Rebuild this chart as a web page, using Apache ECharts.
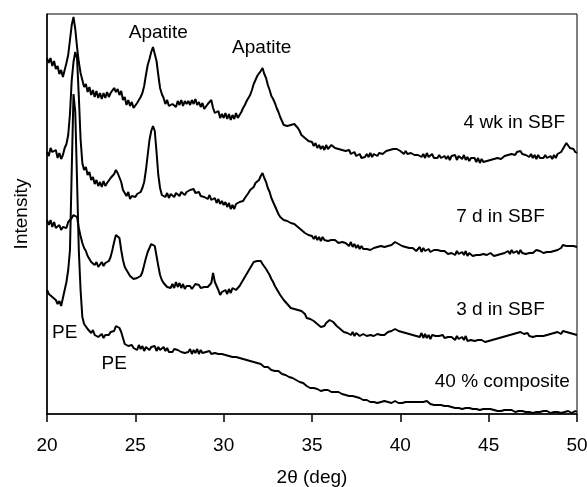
<!DOCTYPE html>
<html>
<head>
<meta charset="utf-8">
<script src="https://cdn.jsdelivr.net/npm/echarts@6/dist/echarts.min.js"></script>
<style>
  html, body { margin: 0; padding: 0; background: #fff; }
  #xrd { width: 587px; height: 487px; }
</style>
</head>
<body>
<div id="xrd"></div>
<script>
// 2θ sampling: 20.0 -> 50.0 deg, 0.1 deg per point
const twoThetaStart = 20
const twoThetaStep = 0.1

// intensities (arbitrary units, traces already offset as in the figure)
const wk4 = [
  356, 351, 356, 348, 353, 345, 348, 340, 344, 337,
  344, 351, 359, 374, 389, 397, 385, 367, 352, 341,
  334, 327, 330, 322, 327, 319, 324, 317, 323, 316,
  321, 315, 321, 316, 322, 317, 321, 322, 326, 322,
  325, 319, 323, 314, 317, 309, 314, 308, 312, 306,
  308, 311, 313, 317, 321, 328, 339, 349, 355, 362,
  367, 365, 353, 339, 326, 320, 316, 310, 314, 308,
  308, 310, 311, 307, 313, 309, 314, 308, 313, 310,
  313, 309, 314, 310, 315, 309, 312, 307, 311, 305,
  307, 310, 311, 314, 306, 301, 299, 303, 296, 300,
  296, 301, 295, 300, 294, 299, 295, 301, 296, 299,
  302, 306, 309, 313, 316, 319, 324, 330, 334, 338,
  340, 343, 346, 340, 336, 329, 324, 318, 315, 311,
  306, 302, 297, 293, 289, 291, 288, 290, 289, 291,
  290, 292, 286, 283, 279, 278, 276, 274, 273, 271,
  272, 268, 271, 266, 269, 265, 268, 264, 269, 265,
  267, 269, 268, 266, 264, 265, 263, 264, 262, 263,
  261, 264, 260, 261, 262, 258, 259, 260, 256, 258,
  257, 260, 257, 261, 257, 260, 261, 258, 261, 262,
  260, 261, 263, 262, 264, 263, 265, 266, 265, 264,
  263, 262, 260, 263, 260, 260, 261, 259, 259, 260,
  259, 261, 257, 260, 256, 261, 257, 256, 260, 256,
  258, 256, 259, 256, 256, 258, 255, 258, 254, 258,
  256, 259, 254, 258, 259, 255, 259, 254, 257, 253,
  256, 254, 256, 252, 256, 251, 255, 252, 251, 253,
  252, 254, 253, 255, 254, 256, 257, 255, 257, 258,
  257, 259, 258, 260, 261, 259, 262, 261, 263, 260,
  261, 259, 261, 257, 260, 256, 259, 255, 259, 256,
  258, 256, 259, 256, 256, 258, 255, 259, 256, 260,
  259, 262, 265, 268, 271, 269, 266, 264, 265, 262,
  261
]
const d7 = [
  262, 258, 266, 262, 261, 264, 256, 261, 255, 259,
  266, 270, 279, 300, 334, 352, 362, 356, 318, 275,
  251, 244, 247, 239, 242, 234, 237, 230, 234, 228,
  232, 227, 233, 228, 231, 233, 236, 234, 240, 244,
  241, 239, 232, 224, 222, 218, 222, 215, 218, 218,
  217, 220, 219, 222, 226, 232, 244, 259, 274, 283,
  288, 283, 262, 239, 226, 219, 221, 217, 221, 216,
  220, 221, 217, 221, 223, 218, 222, 224, 219, 222,
  221, 224, 222, 225, 221, 219, 222, 218, 220, 217,
  219, 215, 219, 214, 215, 216, 211, 215, 210, 213,
  209, 212, 207, 211, 205, 209, 205, 210, 211, 212,
  214, 213, 216, 218, 221, 224, 226, 227, 231, 233,
  234, 238, 241, 236, 232, 226, 222, 216, 212, 208,
  204, 200, 197, 196, 194, 195, 193, 194, 191, 192,
  190, 188, 187, 185, 184, 182, 181, 180, 179, 178,
  178, 175, 178, 174, 177, 173, 177, 174, 174, 173,
  175, 174, 172, 174, 173, 171, 173, 172, 170, 171,
  170, 168, 172, 167, 170, 166, 169, 165, 168, 165,
  166, 165, 167, 164, 165, 166, 164, 167, 166, 168,
  166, 167, 169, 168, 170, 169, 171, 172, 171, 170,
  169, 168, 166, 167, 165, 166, 164, 166, 165, 163,
  164, 167, 162, 166, 163, 162, 165, 162, 161, 164,
  162, 164, 162, 163, 161, 163, 162, 160, 162, 161,
  162, 159, 163, 160, 159, 162, 159, 163, 158, 161,
  160, 158, 160, 159, 157, 159, 158, 160, 158, 159,
  159, 161, 160, 158, 160, 159, 161, 160, 162, 161,
  160, 163, 160, 164, 161, 160, 163, 160, 164, 161,
  162, 160, 162, 161, 163, 161, 162, 164, 162, 163,
  162, 161, 163, 162, 160, 162, 161, 163, 162, 164,
  164, 166, 169, 171, 168, 170, 168, 166, 168, 166,
  167
]
const d3 = [
  194, 189, 194, 187, 192, 186, 184, 189, 184, 187,
  189, 186, 192, 190, 196, 199, 201, 197, 186, 178,
  171, 166, 163, 158, 156, 152, 153, 149, 152, 147,
  149, 152, 148, 151, 150, 153, 157, 164, 172, 179,
  181, 176, 164, 154, 147, 144, 141, 138, 136, 135,
  134, 136, 135, 138, 142, 149, 156, 162, 166, 170,
  172, 168, 158, 148, 139, 134, 131, 129, 127, 128,
  126, 130, 126, 132, 127, 131, 126, 130, 125, 128,
  126, 128, 125, 127, 130, 128, 129, 126, 128, 127,
  129, 127, 126, 131, 141, 132, 128, 124, 119, 122,
  120, 124, 120, 125, 121, 126, 127, 124, 126, 128,
  130, 134, 137, 140, 143, 146, 149, 152, 151, 153,
  155, 153, 150, 149, 145, 142, 139, 135, 132, 128,
  125, 122, 119, 117, 114, 112, 110, 108, 106, 104,
  105, 103, 104, 102, 103, 102, 100, 96, 97, 95,
  94, 93, 91, 90, 89, 87, 89, 88, 91, 93,
  94, 92, 92, 90, 88, 86, 85, 83, 82, 83,
  81, 83, 79, 82, 78, 81, 82, 78, 79, 80,
  79, 78, 80, 79, 81, 78, 79, 80, 78, 79,
  80, 79, 81, 82, 80, 83, 84, 85, 84, 83,
  84, 82, 83, 81, 82, 80, 81, 79, 80, 78,
  79, 77, 81, 76, 80, 76, 79, 75, 79, 77,
  78, 76, 78, 77, 79, 76, 78, 77, 75, 77,
  77, 74, 78, 75, 74, 77, 74, 78, 73, 75,
  74, 76, 73, 75, 74, 72, 74, 73, 72, 74,
  73, 75, 74, 76, 75, 77, 76, 78, 77, 79,
  78, 80, 79, 81, 80, 82, 81, 80, 82, 81,
  80, 79, 81, 78, 80, 77, 79, 78, 76, 78,
  76, 78, 77, 79, 78, 80, 79, 81, 80, 82,
  81, 80, 83, 84, 82, 80, 81, 79, 80, 78,
  79
]
const composite40 = [
  124, 120, 122, 117, 119, 114, 110, 113, 108, 116,
  124, 132, 144, 164, 244, 320, 302, 234, 164, 124,
  97, 90, 91, 85, 87, 81, 84, 79, 81, 77,
  77, 80, 76, 79, 81, 79, 82, 84, 83, 88,
  89, 86, 82, 76, 70, 69, 68, 67, 69, 66,
  67, 64, 69, 65, 68, 63, 67, 68, 64, 67,
  65, 68, 63, 67, 64, 63, 67, 63, 66, 62,
  64, 62, 65, 63, 64, 66, 62, 64, 61, 63,
  62, 65, 60, 64, 61, 65, 60, 64, 61, 60,
  62, 61, 63, 60, 62, 61, 59, 60, 58, 60,
  58, 59, 57, 58, 56, 57, 55, 57, 55, 56,
  54, 55, 53, 54, 52, 53, 51, 52, 50, 51,
  49, 50, 48, 47, 46, 47, 45, 44, 45, 43,
  42, 43, 41, 40, 41, 39, 38, 37, 36, 36,
  35, 34, 33, 32, 31, 31, 29, 28, 27, 26,
  25, 26, 24, 25, 24, 23, 25, 24, 23, 24,
  23, 22, 23, 22, 21, 22, 21, 20, 21, 19,
  19, 18, 17, 18, 16, 17, 15, 16, 14, 14,
  13, 14, 13, 12, 13, 12, 13, 11, 12, 12,
  12, 13, 11, 12, 13, 11, 12, 13, 12, 11,
  12, 11, 13, 12, 11, 12, 10, 12, 11, 12,
  11, 12, 10, 12, 11, 13, 11, 10, 11, 9,
  10, 9, 8, 9, 7, 8, 7, 8, 6, 7,
  7, 6, 8, 6, 7, 5, 7, 6, 5, 6,
  6, 5, 7, 5, 6, 4, 6, 5, 4, 5,
  4, 5, 3, 4, 5, 3, 4, 3, 5, 4,
  3, 4, 2, 4, 3, 2, 4, 3, 2, 3,
  3, 2, 4, 2, 3, 1, 3, 2, 3, 2,
  2, 3, 1, 3, 2, 1, 3, 2, 1, 2,
  2, 1, 3, 2, 1, 3, 2, 1, 2, 3,
  2
]

const traceNames = ['4 wk in SBF', '7 d in SBF', '3 d in SBF', '40 % composite']
const traces = [wk4, d7, d3, composite40]

// text on the plot: [2θ, intensity, text, align]
const annotations = [
  [26.3, 381, 'Apatite', 'center'],
  [32.15, 366, 'Apatite', 'center'],
  [49.32, 291, '4 wk in SBF', 'right'],
  [48.18, 197, '7 d in SBF', 'right'],
  [48.18, 104, '3 d in SBF', 'right'],
  [49.6, 32, '40 % composite', 'right'],
  [21.0, 81, 'PE', 'center'],
  [23.8, 50, 'PE', 'center']
]

const fontFamily = '"Liberation Sans", Arial, Helvetica, sans-serif'

function withTwoTheta(values) {
  return values.map(function(v, i) {
    return [+(twoThetaStart + i * twoThetaStep).toFixed(1), v]
  })
}

const series = traces.map(function(values, k) {
  return {
    name: traceNames[k],
    type: 'line',
    data: withTwoTheta(values),
    showSymbol: false,
    symbol: 'none',
    lineStyle: { color: '#000', width: 2 },
    z: 3
  }
})

series.push({
  name: 'labels',
  type: 'scatter',
  symbolSize: 0,
  silent: true,
  itemStyle: { opacity: 1, color: '#000' },
  data: annotations.map(function(a) {
    return {
      value: [a[0], a[1]],
      label: { align: a[3] }
    }
  }),
  label: {
    show: true,
    position: 'inside',
    color: '#000',
    opacity: 1,
    textBorderWidth: 0,
    fontSize: 19,
    fontFamily: fontFamily,
    verticalAlign: 'middle',
    formatter: function(p) {
      return annotations[p.dataIndex][2]
    }
  },
  z: 5
})

const option = {
  animation: false,
  backgroundColor: '#fff',
  grid: {
    left: 47,
    right: 10,
    top: 14,
    bottom: 73,
    outerBoundsMode: 'none',
    containLabel: false,
    show: true,
    borderColor: '#000',
    borderWidth: 1
  },
  xAxis: {
    type: 'value',
    min: 20,
    max: 50,
    interval: 5,
    name: '2θ (deg)',
    nameLocation: 'middle',
    nameGap: 54,
    nameTextStyle: { color: '#000', fontSize: 19, fontFamily: fontFamily },
    axisLine: { lineStyle: { color: '#000', width: 1.5 } },
    axisTick: { show: true, inside: false, length: 8, lineStyle: { color: '#000', width: 1.5 } },
    axisLabel: { color: '#000', fontSize: 19, fontFamily: fontFamily, margin: 22 },
    splitLine: { show: false }
  },
  yAxis: {
    type: 'value',
    min: 0,
    max: 400,
    name: 'Intensity',
    nameLocation: 'middle',
    nameGap: 16,
    nameTextStyle: { color: '#000', fontSize: 19, fontFamily: fontFamily },
    axisLine: { show: true, lineStyle: { color: '#000', width: 1.5 } },
    axisTick: { show: false },
    axisLabel: { show: false },
    splitLine: { show: false }
  },
  series: series
}

const myChart = echarts.init(document.getElementById('xrd'))
myChart.setOption(option)
window.onresize = function() {
  myChart.resize()
}
</script>
</body>
</html>
